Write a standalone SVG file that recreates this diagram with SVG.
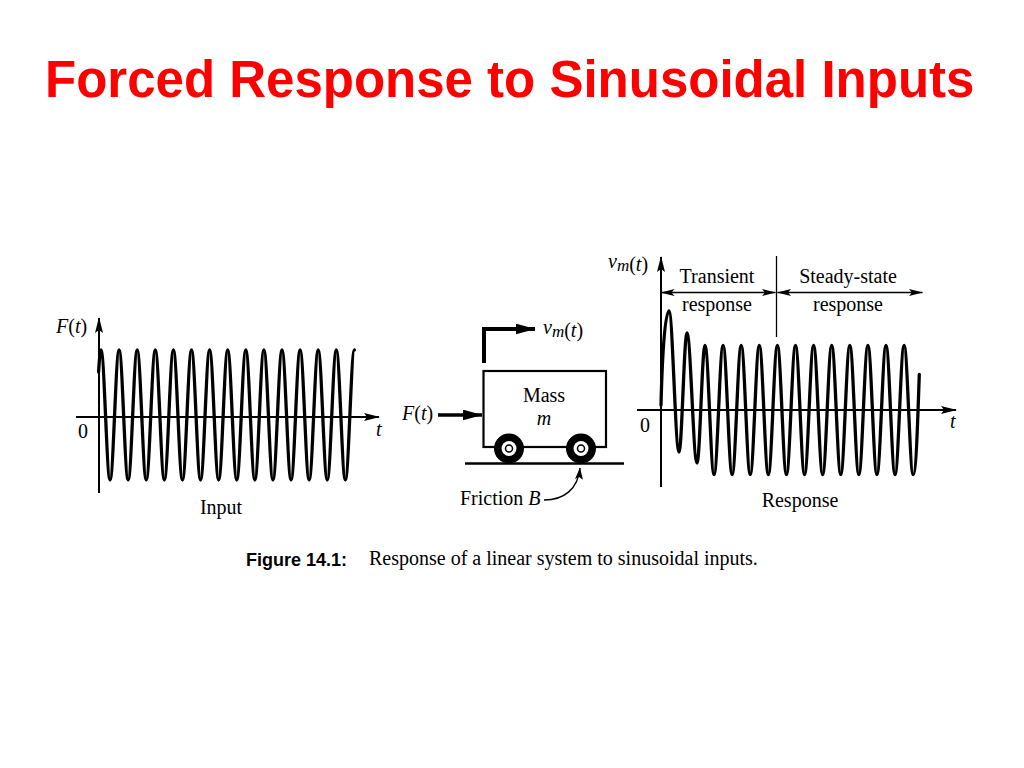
<svg xmlns="http://www.w3.org/2000/svg" width="1024" height="768" viewBox="0 0 1024 768">
<style>
.serif{font-family:"Liberation Serif","Times New Roman",serif;font-size:20px;fill:#000}
.it{font-style:italic}
.axis{stroke:#000;stroke-width:2;fill:none}
.wave{stroke:#000;stroke-width:3.3;fill:none;stroke-linejoin:round;stroke-linecap:round}
.thin{stroke:#000;stroke-width:1.3;fill:none}
</style>
<defs>
<marker id="axh" viewBox="0 0 16 8" refX="15" refY="4" markerWidth="16" markerHeight="8" markerUnits="userSpaceOnUse" orient="auto">
<path d="M0,0 L16,4 L0,8 L3,4 Z" fill="#000"/>
</marker>
<marker id="th" viewBox="0 0 14 7" refX="13.5" refY="3.5" markerWidth="14" markerHeight="7" markerUnits="userSpaceOnUse" orient="auto-start-reverse">
<path d="M0,0 L14,3.5 L0,7 L3,3.5 Z" fill="#000"/>
</marker>
<marker id="bh" viewBox="0 0 20 11" refX="19.5" refY="5.5" markerWidth="20" markerHeight="11" markerUnits="userSpaceOnUse" orient="auto">
<path d="M0,0 L20,5.5 L0,11 Z" fill="#000"/>
</marker>
<marker id="fh" viewBox="0 0 12 8" refX="11.5" refY="4" markerWidth="12" markerHeight="8" markerUnits="userSpaceOnUse" orient="auto">
<path d="M0,0 L12,4 L0,8 L2.5,4 Z" fill="#000"/>
</marker>
</defs>
<rect width="1024" height="768" fill="#fff"/>

<g id="title">
<text x="45" y="97" font-family="'Liberation Sans',Arial,sans-serif" font-weight="bold" font-size="51" fill="#f00">Forced Response to Sinusoidal Inputs</text>
</g>

<g id="input-plot">
<path class="wave" d="M 98.6,372 C 99.4,358 100.2,350 101,350 c 3.29,0 5.76,130 9.05,130 s 5.76,-130 9.05,-130 s 5.76,130 9.05,130 s 5.76,-130 9.05,-130 s 5.76,130 9.05,130 s 5.76,-130 9.05,-130 s 5.76,130 9.05,130 s 5.76,-130 9.05,-130 s 5.76,130 9.05,130 s 5.76,-130 9.05,-130 s 5.76,130 9.05,130 s 5.76,-130 9.05,-130 s 5.76,130 9.05,130 s 5.76,-130 9.05,-130 s 5.76,130 9.05,130 s 5.76,-130 9.05,-130 s 5.76,130 9.05,130 s 5.76,-130 9.05,-130 s 5.76,130 9.05,130 s 5.76,-130 9.05,-130 s 5.76,130 9.05,130 s 5.76,-130 9.05,-130 s 5.76,130 9.05,130 s 5.76,-130 9.05,-130 s 5.76,130 9.05,130 s 5.76,-130 9.05,-130 s 5.76,130 9.05,130 s 5.76,-130 9.05,-130"/>
<text class="serif" x="56" y="333"><tspan class="it">F</tspan>(<tspan class="it">t</tspan>)</text>
<text class="serif" x="78" y="438">0</text>
<text class="serif it" x="376" y="436">t</text>
<text class="serif" x="221" y="514" text-anchor="middle">Input</text>
</g>

<g id="cart">
<rect x="483.5" y="371" width="122.5" height="76" fill="#fff" stroke="#000" stroke-width="2.2"/>
<g id="wheel-left">
<circle cx="509" cy="448.5" r="15" fill="#000"/>
<circle cx="509" cy="448.5" r="7.5" fill="#fff"/>
<circle cx="509" cy="448.5" r="3.5" fill="#fff" stroke="#000" stroke-width="1.5"/>
</g>
<g id="wheel-right">
<circle cx="581" cy="448.5" r="15" fill="#000"/>
<circle cx="581" cy="448.5" r="7.5" fill="#fff"/>
<circle cx="581" cy="448.5" r="3.5" fill="#fff" stroke="#000" stroke-width="1.5"/>
</g>
<line x1="465" y1="463.5" x2="624" y2="463.5" stroke="#000" stroke-width="2.5"/>
<text class="serif" x="544" y="402" text-anchor="middle">Mass</text>
<text class="serif it" x="544" y="425" text-anchor="middle">m</text>
<text class="serif" x="402" y="420"><tspan class="it">F</tspan>(<tspan class="it">t</tspan>)</text>
<text class="serif" x="543" y="334"><tspan class="it">v</tspan><tspan class="it" dy="3" font-size="17">m</tspan>(<tspan class="it">t</tspan>)</text>
<text class="serif" x="460" y="505">Friction <tspan class="it">B</tspan></text>
</g>

<g id="response-plot">
<path class="wave" d="M 661,405 C 662.5,345 665.5,311 669,311 C 672.6,311 675.4,452 679,452 C 681.9,452 684.1,333 687,333 C 690.6,333 693.4,463 697,463 C 699.9,463 702.1,345.5 705,345.5 c 3.29,0 5.76,129 9.05,129 s 5.76,-129 9.05,-129 s 5.76,129 9.05,129 s 5.76,-129 9.05,-129 s 5.76,129 9.05,129 s 5.76,-129 9.05,-129 s 5.76,129 9.05,129 s 5.76,-129 9.05,-129 s 5.76,129 9.05,129 s 5.76,-129 9.05,-129 s 5.76,129 9.05,129 s 5.76,-129 9.05,-129 s 5.76,129 9.05,129 s 5.76,-129 9.05,-129 s 5.76,129 9.05,129 s 5.76,-129 9.05,-129 s 5.76,129 9.05,129 s 5.76,-129 9.05,-129 s 5.76,129 9.05,129 s 5.76,-129 9.05,-129 s 5.76,129 9.05,129 s 5.76,-129 9.05,-129 s 5.76,129 9.05,129 c 3.29,0 5,-70 6.15,-100"/>
<line class="thin" x1="776.5" y1="256" x2="776.5" y2="337"/>
<text class="serif" x="608" y="268"><tspan class="it">v</tspan><tspan class="it" dy="3" font-size="17">m</tspan>(<tspan class="it">t</tspan>)</text>
<text class="serif" x="717" y="283" text-anchor="middle">Transient</text>
<text class="serif" x="717" y="311" text-anchor="middle">response</text>
<text class="serif" x="848" y="283" text-anchor="middle">Steady-state</text>
<text class="serif" x="848" y="311" text-anchor="middle">response</text>
<text class="serif" x="640" y="432">0</text>
<text class="serif it" x="950" y="428">t</text>
<text class="serif" x="800" y="507" text-anchor="middle">Response</text>
</g>

<g id="connectors">
<line class="axis" x1="99" y1="493" x2="99" y2="318" marker-end="url(#axh)"/>
<line class="axis" x1="76" y1="417" x2="379" y2="417" marker-end="url(#axh)"/>
<line class="axis" x1="661" y1="487" x2="661" y2="257" marker-end="url(#axh)"/>
<line class="axis" x1="637" y1="410" x2="956" y2="410" marker-end="url(#axh)"/>
<line class="thin" x1="661" y1="292.5" x2="775.5" y2="292.5" marker-start="url(#th)" marker-end="url(#th)"/>
<line class="thin" x1="777.5" y1="292.5" x2="922.5" y2="292.5" marker-start="url(#th)" marker-end="url(#th)"/>
<line x1="438" y1="415" x2="482" y2="415" stroke="#000" stroke-width="3.5" marker-end="url(#bh)"/>
<path d="M 484,363 L 484,329 L 535,329" fill="none" stroke="#000" stroke-width="4" marker-end="url(#bh)"/>
<path d="M 544,500 C 564,500 578,489 580,468" fill="none" stroke="#000" stroke-width="1.4" marker-end="url(#fh)"/>
</g>

<g id="caption">
<text x="246" y="566" font-family="'Liberation Sans',Arial,sans-serif" font-weight="bold" font-size="18" fill="#000">Figure 14.1:</text>
<text class="serif" x="369" y="565">Response of a linear system to sinusoidal inputs.</text>
</g>
</svg>
